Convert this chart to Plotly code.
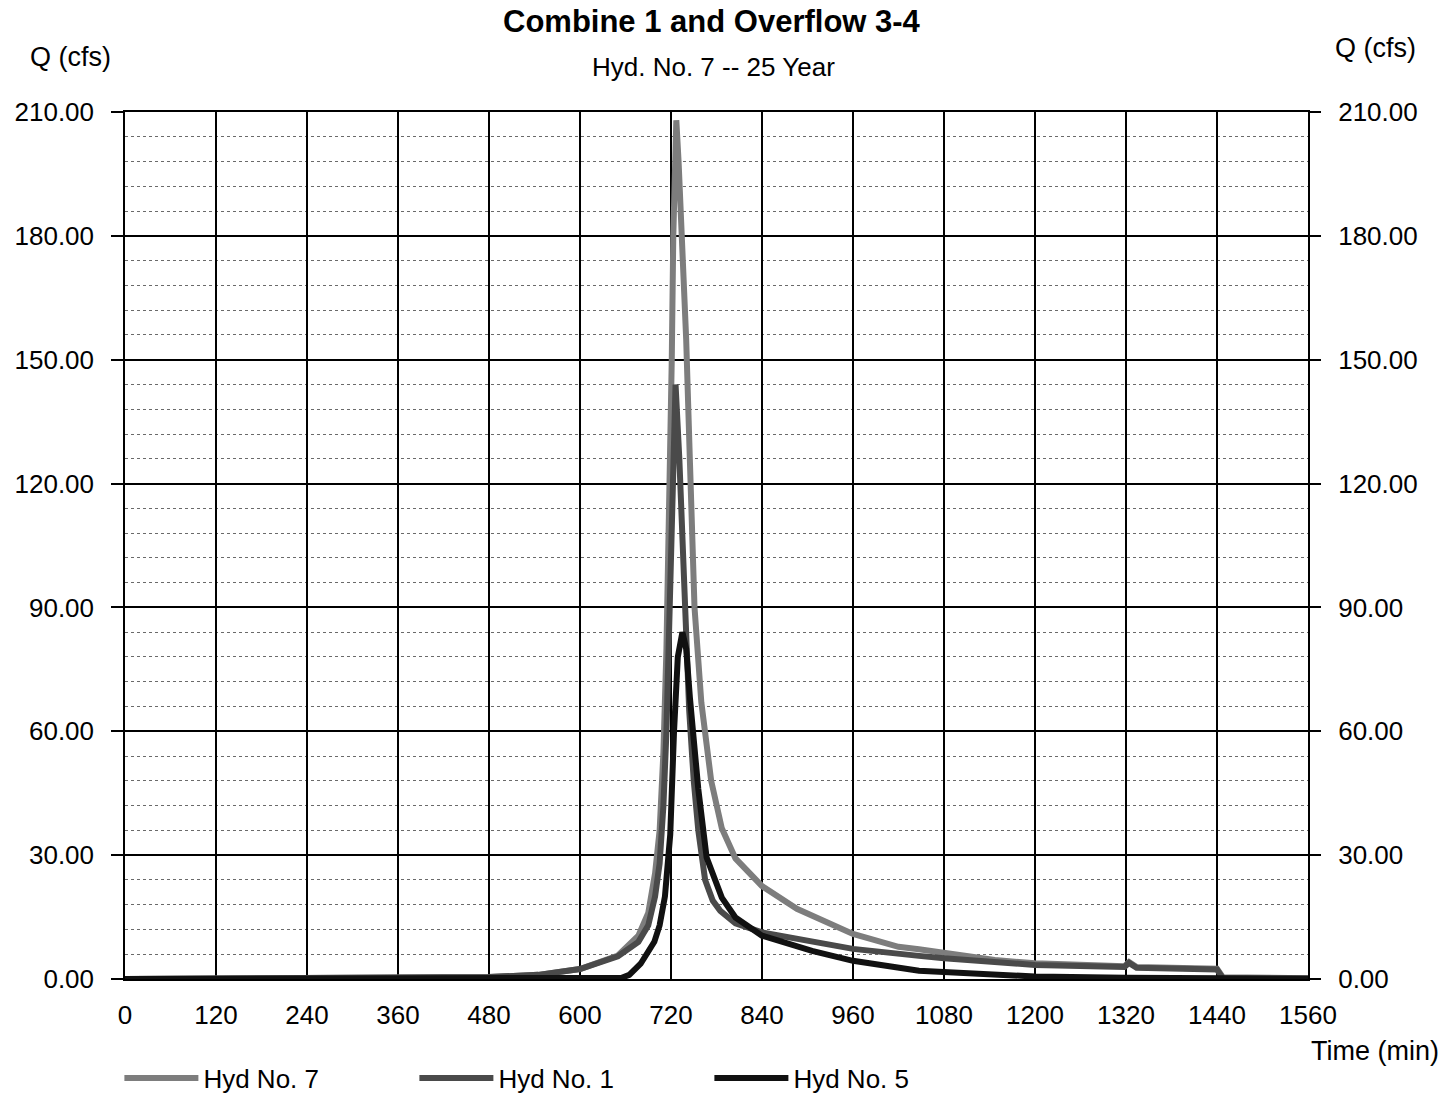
import plotly.graph_objects as go

# ---- data ----
t7 = [0, 60, 120, 240, 360, 420, 480, 545, 600, 650, 677, 690, 699, 705, 710, 714, 718, 721, 723, 725, 727,
      730, 735, 740, 745, 751, 760, 773, 787, 805, 840, 886, 960, 1020, 1047, 1080, 1147, 1200, 1260, 1318,
      1324, 1334, 1380, 1440, 1448, 1500, 1560]
q7 = [0.0, 0.05, 0.1, 0.2, 0.3, 0.35, 0.5, 1.0, 2.4, 5.7, 10.5, 16.0, 25.6, 36.0, 55.0, 80.0, 115.0, 150.0, 180.0, 200.0, 208.0,
      198.0, 180.0, 155.0, 125.0, 90.0, 67.0, 48.0, 36.5, 29.2, 22.5, 17.0, 10.9, 7.8, 7.2, 6.3, 4.6, 3.8, 3.4, 3.1,
      4.1, 2.9, 2.7, 2.5, 0.4, 0.3, 0.2]

t1 = [0, 60, 120, 240, 360, 420, 480, 545, 600, 650, 677, 690, 699, 705, 710, 714, 718, 721, 724, 726,
      731, 735, 738, 744, 750, 756, 765, 775, 785, 805, 840, 900, 960, 1047, 1080, 1200, 1318,
      1324, 1334, 1440, 1448, 1560]
q1 = [0.0, 0.05, 0.1, 0.2, 0.3, 0.35, 0.5, 1.0, 2.4, 5.5, 9.0, 13.0, 20.0, 28.0, 42.0, 60.0, 90.0, 120.0, 140.0, 144.0,
      126.0, 108.0, 90.0, 65.0, 48.0, 36.0, 24.0, 19.0, 16.5, 13.5, 11.3, 9.3, 7.3, 5.6, 5.0, 3.4, 2.9,
      3.9, 2.7, 2.3, 0.1, 0.0]

t5 = [0, 640, 655, 665, 680, 698, 705, 712, 716, 719, 724, 729, 735, 740, 745, 750, 756, 767, 787, 805,
      840, 906, 960, 1047, 1080, 1200, 1320, 1440, 1560]
q5 = [0.0, 0.0, 0.3, 1.0, 3.7, 9.0, 13.0, 20.0, 29.5, 35.0, 60.0, 78.0, 84.0, 80.0, 68.0, 56.0, 46.0, 29.4, 19.7, 14.9,
      10.5, 6.8, 4.4, 2.0, 1.7, 0.6, 0.3, 0.2, 0.1]

x_ticks = list(range(0, 1561, 120))
y_ticks = [0, 30, 60, 90, 120, 150, 180, 210]
y_labels = ["%.2f" % v for v in y_ticks]

FONT = "Liberation Sans, Arial, sans-serif"

# plot-area pixel geometry (used only for placing text annotations)
L, R, T, B = 125, 1308, 112, 979
W, H = R - L, B - T


def px(x):
    return (x - L) / W


def py(y):
    return (B - y) / H


fig = go.Figure()
fig.add_trace(go.Scatter(x=t7, y=q7, mode="lines", name="Hyd No. 7",
                         line=dict(color="#7d7d7d", width=6)))
fig.add_trace(go.Scatter(x=t1, y=q1, mode="lines", name="Hyd No. 1",
                         line=dict(color="#4a4a4a", width=6)))
fig.add_trace(go.Scatter(x=t5, y=q5, mode="lines", name="Hyd No. 5",
                         line=dict(color="#111111", width=6)))
# invisible trace to anchor the right-hand axis
fig.add_trace(go.Scatter(x=[0, 1560], y=[0, 210], mode="lines", yaxis="y2",
                         line=dict(width=0, color="rgba(0,0,0,0)"), showlegend=False,
                         hoverinfo="skip"))

fig.update_layout(
    width=1456, height=1095,
    margin=dict(l=L, r=1456 - R, t=T, b=1095 - B),
    paper_bgcolor="white", plot_bgcolor="white",
    font=dict(family=FONT, size=26, color="black"),
    showlegend=True,
    legend=dict(orientation="h", xref="container", yref="container",
                x=0.082, y=0.0155, xanchor="left", yanchor="middle",
                itemwidth=74, entrywidth=206, entrywidthmode="pixels",
                font=dict(size=26), bgcolor="rgba(0,0,0,0)"),
    xaxis=dict(range=[0, 1560], tickvals=x_ticks, ticktext=[str(v) for v in x_ticks],
               showgrid=True, gridcolor="black", gridwidth=1.5,
               showline=True, linecolor="black", linewidth=1.5, mirror=True,
               ticks="", ticklabelstandoff=12, tickfont=dict(size=26),
               zeroline=False),
    yaxis=dict(range=[0, 210], tickvals=y_ticks, ticktext=y_labels,
               showgrid=True, gridcolor="black", gridwidth=1.5,
               minor=dict(dtick=6, showgrid=True, gridcolor="#6a6a6a", gridwidth=1, griddash="dot"),
               showline=True, linecolor="black", linewidth=1.5, mirror=True,
               ticks="outside", ticklen=12, tickcolor="black", tickwidth=1.5,
               ticklabelstandoff=12, tickfont=dict(size=26), zeroline=False),
    yaxis2=dict(range=[0, 210], tickvals=y_ticks, ticktext=y_labels, overlaying="y", side="right",
                showgrid=False, ticks="outside", ticklen=12, tickcolor="black", tickwidth=1.5,
                ticklabelstandoff=12, tickfont=dict(size=26), zeroline=False, showline=False),
    annotations=[
        dict(text="<b>Combine 1 and Overflow 3-4</b>", xref="paper", yref="paper",
             x=px(712), y=py(22), xanchor="center", yanchor="middle",
             showarrow=False, font=dict(size=31)),
        dict(text="Hyd. No. 7 -- 25 Year", xref="paper", yref="paper",
             x=px(713), y=py(67), xanchor="center", yanchor="middle",
             showarrow=False, font=dict(size=26)),
        dict(text="Q (cfs)", xref="paper", yref="paper", showarrow=False,
             x=px(70), y=py(57), xanchor="center", yanchor="middle",
             font=dict(size=27)),
        dict(text="Q (cfs)", xref="paper", yref="paper", showarrow=False,
             x=px(1375), y=py(48), xanchor="center", yanchor="middle",
             font=dict(size=27)),
        dict(text="Time (min)", xref="paper", yref="paper", showarrow=False,
             x=px(1375), y=py(1051), xanchor="center", yanchor="middle",
             font=dict(size=27)),
    ],
)

fig.write_html("out.html")
